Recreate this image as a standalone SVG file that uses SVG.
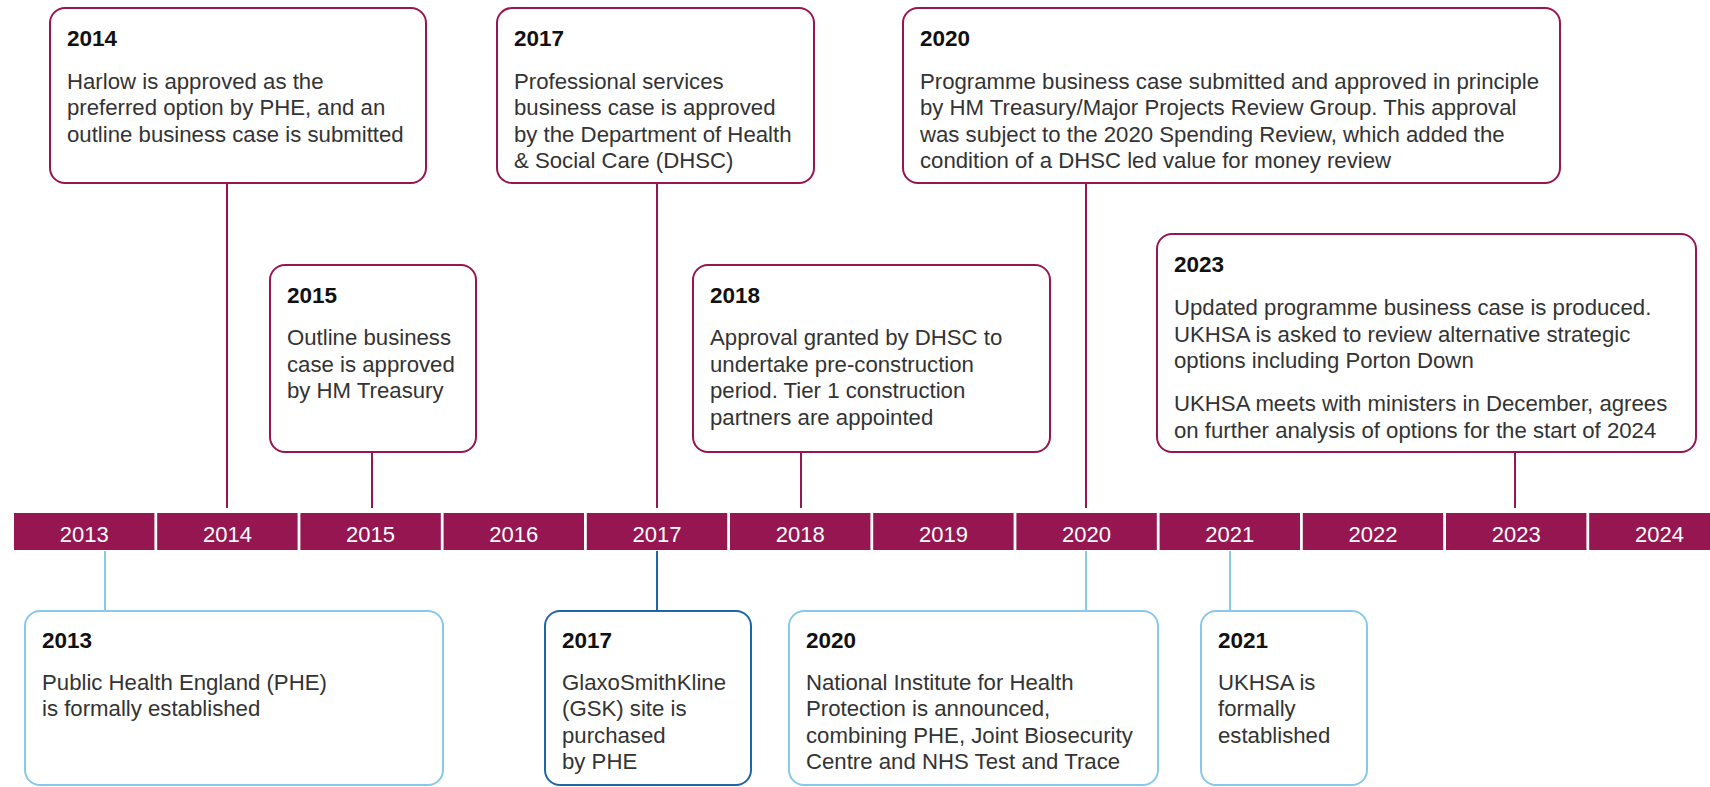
<svg xmlns="http://www.w3.org/2000/svg" width="1710" height="787" viewBox="0 0 1710 787">
  <style>
    .bg { fill: #ffffff; }
    .seg { fill: #961652; }
    .yr { font-family: "Liberation Sans", Arial, sans-serif; font-size: 22px; fill: #ffffff; text-anchor: middle; }
    .box { fill: #ffffff; stroke-width: 2; }
    .top { stroke: #961652; }
    .light { stroke: #88c9ea; }
    .dark { stroke: #1d67a9; }
    .title { font-family: "Liberation Sans", Arial, sans-serif; font-size: 22.5px; font-weight: bold; fill: #111111; }
    .body { font-family: "Liberation Sans", Arial, sans-serif; font-size: 22.2px; fill: #333333; }
    .conn line { stroke-width: 2; fill: none; }
    .c-top { stroke: #961652; }
    .c-light { stroke: #88c9ea; }
    .c-dark { stroke: #1d67a9; }
  </style>

  <rect class="bg" x="0" y="0" width="1710" height="787"/>

  <!-- connectors between event cards and the year bar -->
  <g id="connectors" class="conn">
    <line class="c-top" x1="227" y1="183" x2="227" y2="508"/>
    <line class="c-top" x1="657" y1="183" x2="657" y2="508"/>
    <line class="c-top" x1="1086" y1="183" x2="1086" y2="508"/>
    <line class="c-top" x1="372" y1="452" x2="372" y2="508"/>
    <line class="c-top" x1="801" y1="452" x2="801" y2="508"/>
    <line class="c-top" x1="1515" y1="452" x2="1515" y2="508"/>
    <line class="c-light" x1="105" y1="551" x2="105" y2="611"/>
    <line class="c-dark" x1="657" y1="551" x2="657" y2="611"/>
    <line class="c-light" x1="1086" y1="551" x2="1086" y2="611"/>
    <line class="c-light" x1="1230" y1="551" x2="1230" y2="611"/>
  </g>

  <!-- year bar -->
  <g id="yearbar">
    <rect class="seg" x="14" y="513" width="140.4" height="37"/>
    <rect class="seg" x="157.2" y="513" width="140.4" height="37"/>
    <rect class="seg" x="300.4" y="513" width="140.4" height="37"/>
    <rect class="seg" x="443.6" y="513" width="140.4" height="37"/>
    <rect class="seg" x="586.8" y="513" width="140.4" height="37"/>
    <rect class="seg" x="730" y="513" width="140.4" height="37"/>
    <rect class="seg" x="873.2" y="513" width="140.4" height="37"/>
    <rect class="seg" x="1016.4" y="513" width="140.4" height="37"/>
    <rect class="seg" x="1159.6" y="513" width="140.4" height="37"/>
    <rect class="seg" x="1302.8" y="513" width="140.4" height="37"/>
    <rect class="seg" x="1446" y="513" width="140.4" height="37"/>
    <rect class="seg" x="1589.2" y="513" width="140.4" height="37"/>
    <text class="yr" x="84.2" y="541.5">2013</text>
    <text class="yr" x="227.4" y="541.5">2014</text>
    <text class="yr" x="370.6" y="541.5">2015</text>
    <text class="yr" x="513.8" y="541.5">2016</text>
    <text class="yr" x="657" y="541.5">2017</text>
    <text class="yr" x="800.2" y="541.5">2018</text>
    <text class="yr" x="943.4" y="541.5">2019</text>
    <text class="yr" x="1086.6" y="541.5">2020</text>
    <text class="yr" x="1229.8" y="541.5">2021</text>
    <text class="yr" x="1373" y="541.5">2022</text>
    <text class="yr" x="1516.2" y="541.5">2023</text>
    <text class="yr" x="1659.4" y="541.5">2024</text>
  </g>

  <!-- events above the bar -->
  <g id="event-2014">
    <rect class="box top" x="50" y="8" width="376" height="175" rx="15"/>
    <text class="title" x="67" y="46">2014</text>
    <text class="body" x="67" y="88.5">Harlow is approved as the</text>
    <text class="body" x="67" y="115">preferred option by PHE, and an</text>
    <text class="body" x="67" y="141.5">outline business case is submitted</text>
  </g>

  <g id="event-2017-top">
    <rect class="box top" x="497" y="8" width="317" height="175" rx="15"/>
    <text class="title" x="514" y="46">2017</text>
    <text class="body" x="514" y="88.5">Professional services</text>
    <text class="body" x="514" y="115">business case is approved</text>
    <text class="body" x="514" y="141.5">by the Department of Health</text>
    <text class="body" x="514" y="168">&amp; Social Care (DHSC)</text>
  </g>

  <g id="event-2020-top">
    <rect class="box top" x="903" y="8" width="657" height="175" rx="15"/>
    <text class="title" x="920" y="46">2020</text>
    <text class="body" x="920" y="88.5">Programme business case submitted and approved in principle</text>
    <text class="body" x="920" y="115">by HM Treasury/Major Projects Review Group. This approval</text>
    <text class="body" x="920" y="141.5">was subject to the 2020 Spending Review, which added the</text>
    <text class="body" x="920" y="168">condition of a DHSC led value for money review</text>
  </g>

  <g id="event-2015">
    <rect class="box top" x="270" y="265" width="206" height="187" rx="15"/>
    <text class="title" x="287" y="303">2015</text>
    <text class="body" x="287" y="345">Outline business</text>
    <text class="body" x="287" y="371.5">case is approved</text>
    <text class="body" x="287" y="398">by HM Treasury</text>
  </g>

  <g id="event-2018">
    <rect class="box top" x="693" y="265" width="357" height="187" rx="15"/>
    <text class="title" x="710" y="303">2018</text>
    <text class="body" x="710" y="345">Approval granted by DHSC to</text>
    <text class="body" x="710" y="371.5">undertake pre-construction</text>
    <text class="body" x="710" y="398">period. Tier 1 construction</text>
    <text class="body" x="710" y="424.5">partners are appointed</text>
  </g>

  <g id="event-2023">
    <rect class="box top" x="1157" y="234" width="539" height="218" rx="15"/>
    <text class="title" x="1174" y="272">2023</text>
    <text class="body" x="1174" y="315">Updated programme business case is produced.</text>
    <text class="body" x="1174" y="341.5">UKHSA is asked to review alternative strategic</text>
    <text class="body" x="1174" y="368">options including Porton Down</text>
    <text class="body" x="1174" y="411">UKHSA meets with ministers in December, agrees</text>
    <text class="body" x="1174" y="437.5">on further analysis of options for the start of 2024</text>
  </g>

  <!-- events below the bar -->
  <g id="event-2013">
    <rect class="box light" x="25" y="611" width="418" height="174" rx="15"/>
    <text class="title" x="42" y="647.5">2013</text>
    <text class="body" x="42" y="689.5">Public Health England (PHE)</text>
    <text class="body" x="42" y="716">is formally established</text>
  </g>

  <g id="event-2017-bottom">
    <rect class="box dark" x="545" y="611" width="206" height="174" rx="15"/>
    <text class="title" x="562" y="647.5">2017</text>
    <text class="body" x="562" y="689.5">GlaxoSmithKline</text>
    <text class="body" x="562" y="716">(GSK) site is</text>
    <text class="body" x="562" y="742.5">purchased</text>
    <text class="body" x="562" y="769">by PHE</text>
  </g>

  <g id="event-2020-bottom">
    <rect class="box light" x="789" y="611" width="369" height="174" rx="15"/>
    <text class="title" x="806" y="647.5">2020</text>
    <text class="body" x="806" y="689.5">National Institute for Health</text>
    <text class="body" x="806" y="716">Protection is announced,</text>
    <text class="body" x="806" y="742.5">combining PHE, Joint Biosecurity</text>
    <text class="body" x="806" y="769">Centre and NHS Test and Trace</text>
  </g>

  <g id="event-2021">
    <rect class="box light" x="1201" y="611" width="166" height="174" rx="15"/>
    <text class="title" x="1218" y="647.5">2021</text>
    <text class="body" x="1218" y="689.5">UKHSA is</text>
    <text class="body" x="1218" y="716">formally</text>
    <text class="body" x="1218" y="742.5">established</text>
  </g>
</svg>
